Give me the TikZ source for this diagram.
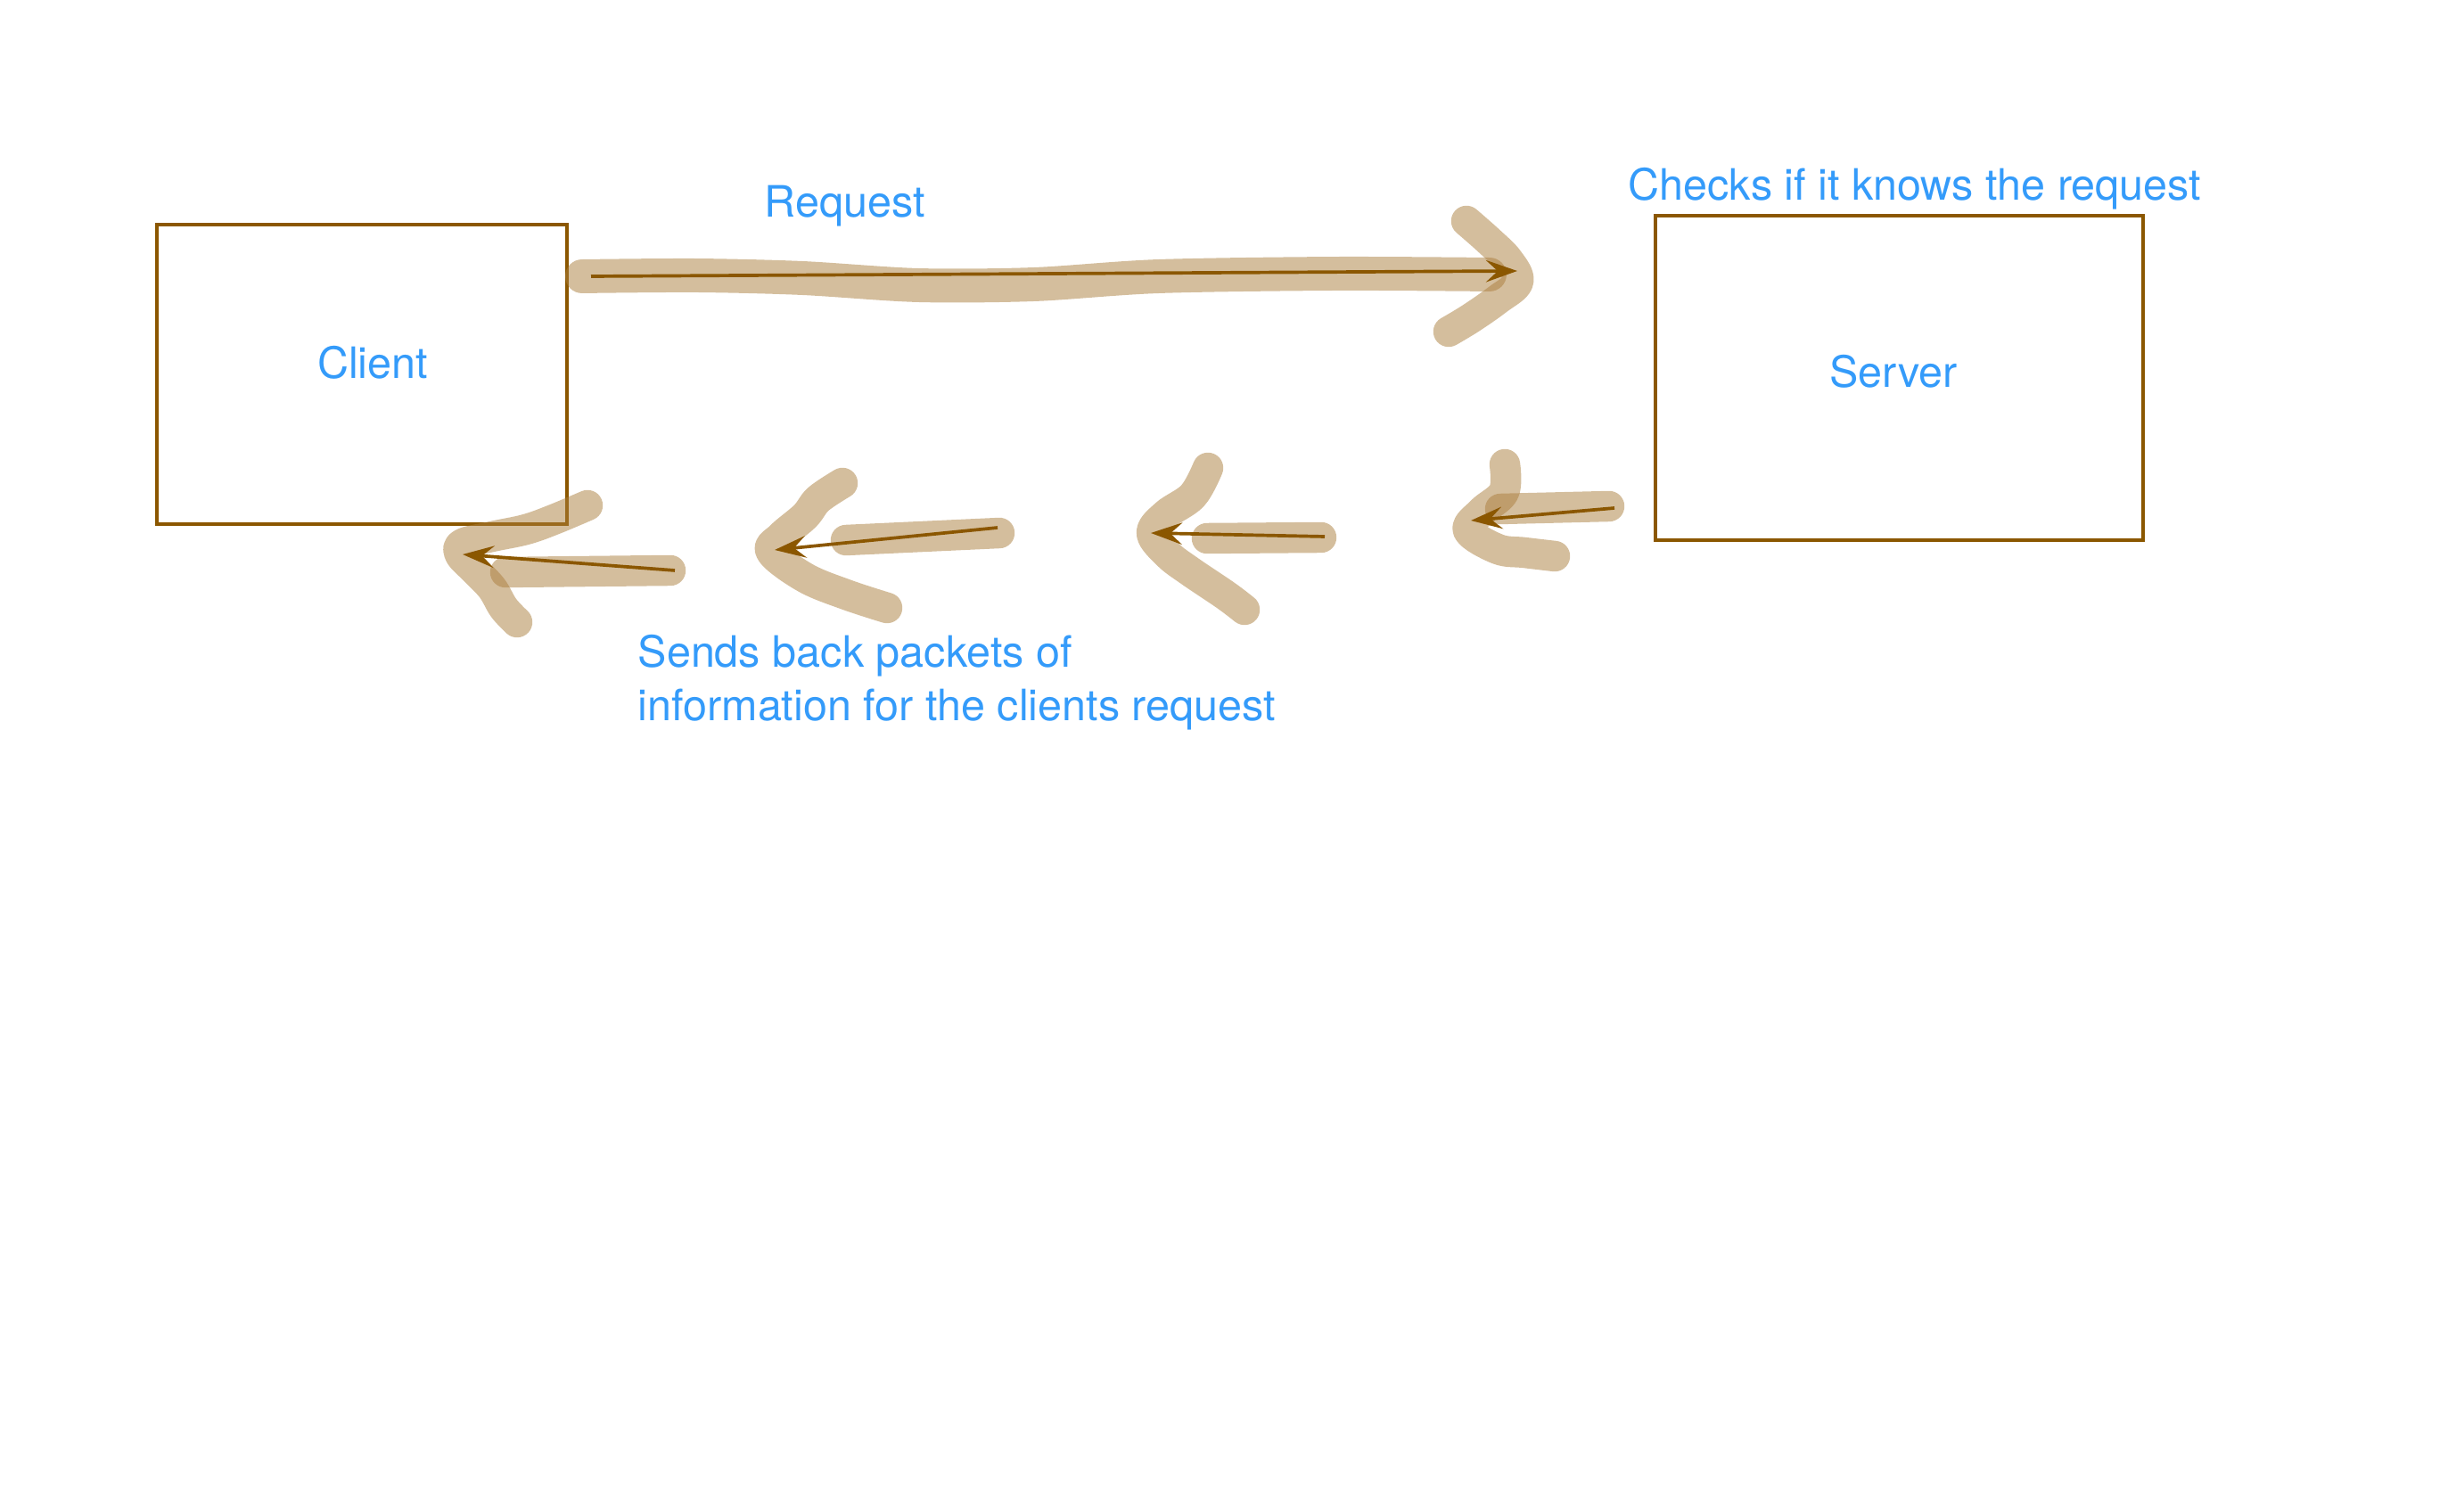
\documentclass[tikz,border=0pt]{standalone}
\usepackage{fontspec}
\setmainfont{TeX Gyre Heros}
\usetikzlibrary{positioning,arrows.meta,calc}
\definecolor{kastenbraun}{RGB}{139,87,0}
\definecolor{textblau}{RGB}{52,155,250}
\definecolor{stiftbraun}{RGB}{170,125,60}

\begin{document}
\begin{tikzpicture}[box/.style={rectangle,draw=kastenbraun,line width=0.9pt,inner sep=0pt},
  txt/.style={font=\fontsize{13.8}{17}\selectfont,text=textblau,inner sep=0pt},
  stift/.style={draw=stiftbraun,opacity=0.5,line width=9.8pt,line cap=round,line join=round},
  pfeil/.style={color=kastenbraun,line width=1.05pt,-{Stealth[length=10pt,width=7pt,inset=3.8pt]}}]

		  \useasboundingbox (0,0) rectangle (27.64,-16.84);

		  % Kaesten
		  \node[box,minimum width=4.6cm,minimum height=3.36cm] (Client) at (4.06,-4.20) {};
		  \node[box,minimum width=5.47cm,minimum height=3.64cm] (Server) at (21.305,-4.24) {};

		  % Beschriftung
		  \node[txt] (ClientText) at (4.18,-4.07) {Client};
		  \node[txt] (ServerText) at (21.24,-4.17) {Server};
		  \node[txt,anchor=base] (RequestText) at (9.48,-2.44) {Request};
		  \node[txt,anchor=base east] (CheckText) at (24.70,-2.25) {Checks if it knows the request};
		  \node[txt,anchor=base west] (SendText) at (7.15,-7.49) {Sends back packets of};
		  \node[txt,anchor=base west] (SendTextB) at ($(SendText.base west)+(0,-0.60)$) {information for the clients request};

		  % Stiftstriche: Anfrage
		  \draw[stift,line width=10.8pt] plot[smooth] coordinates {(6.53,-3.10) (7.8,-3.09) (9.0,-3.12) (10.3,-3.20) (11.6,-3.19) (13.0,-3.10) (15.0,-3.07) (16.71,-3.08)};
		  \draw[stift] plot[smooth,tension=0.6] coordinates {(16.45,-2.48) (16.70,-2.70) (16.92,-2.92) (17.03,-3.16) (16.80,-3.36) (16.50,-3.57) (16.25,-3.72)};

		  % Stiftstriche: Antwort
		  \draw[stift] (16.83,-5.71) -- (18.05,-5.68);
		  \draw[stift] plot[smooth,tension=0.6] coordinates {(16.88,-5.21) (16.87,-5.52) (16.62,-5.74) (16.47,-5.95) (16.80,-6.16) (17.10,-6.20) (17.44,-6.24)};
		  \draw[stift] (13.54,-6.04) -- (14.82,-6.03);
		  \draw[stift] plot[smooth,tension=0.6] coordinates {(13.55,-5.25) (13.38,-5.56) (13.08,-5.77) (12.92,-5.98) (13.10,-6.22) (13.35,-6.41) (13.75,-6.68) (13.96,-6.84)};
		  \draw[stift] (9.49,-6.06) -- (11.21,-5.98);
		  \draw[stift] plot[smooth,tension=0.6] coordinates {(9.45,-5.42) (9.18,-5.60) (9.03,-5.79) (8.76,-6.02) (8.65,-6.19) (9.03,-6.48) (9.49,-6.67) (9.95,-6.82)};
		  \draw[stift] (5.67,-6.42) -- (7.52,-6.40);
		  \draw[stift] plot[smooth,tension=0.6] coordinates {(6.59,-5.67) (6.21,-5.83) (5.90,-5.94) (5.52,-6.02) (5.19,-6.10) (5.16,-6.22) (5.33,-6.40) (5.52,-6.60) (5.65,-6.82) (5.80,-6.98)};

		  % Pfeile
		  \coordinate (req-a) at (6.63,-3.10);
		  \coordinate (req-b) at (17.02,-3.04);
		  \coordinate (back4-a) at (18.11,-5.70);
		  \coordinate (back4-b) at (16.50,-5.84);
		  \coordinate (back3-a) at (14.86,-6.02);
		  \coordinate (back3-b) at (12.91,-5.98);
		  \coordinate (back2-a) at (11.19,-5.92);
		  \coordinate (back2-b) at (8.69,-6.17);
		  \coordinate (back1-a) at (7.57,-6.40);
		  \coordinate (back1-b) at (5.19,-6.22);

		  \path[pfeil]
			(req-a)   edge (req-b)
			(back4-a) edge (back4-b)
			(back3-a) edge (back3-b)
			(back2-a) edge (back2-b)
			(back1-a) edge (back1-b);

\end{tikzpicture}
\end{document}
